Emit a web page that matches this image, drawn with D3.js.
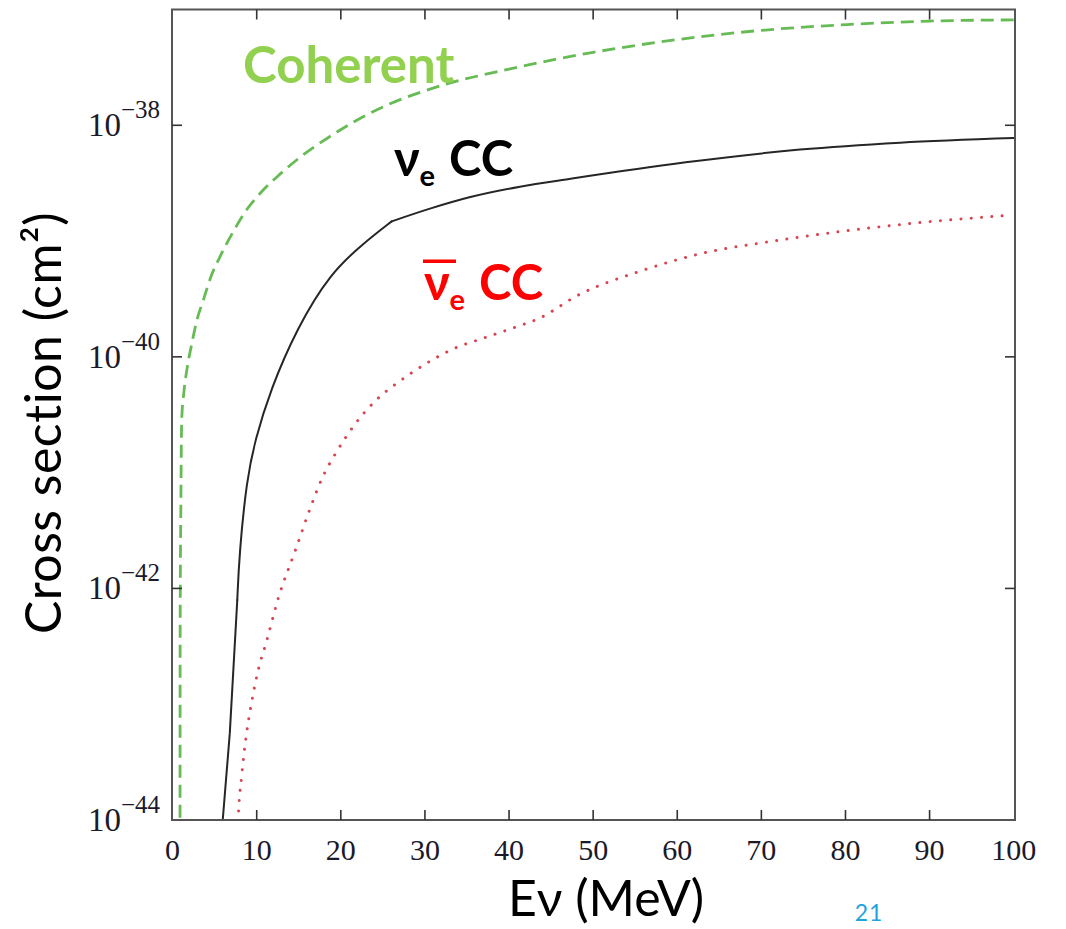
<!DOCTYPE html>
<html>
<head>
<meta charset="utf-8">
<script src="https://cdn.jsdelivr.net/npm/d3@7"></script>
<style>
  html, body { margin: 0; padding: 0; background: #ffffff; }
  svg { display: block; }
</style>
</head>
<body>
<svg id="chart" width="1066" height="929"></svg>
<script>
// ---------- DATA (energy in MeV, cross section as log10 of cm^2) ----------
const coherentE   = [0.88, 0.9, 0.98, 1.08, 1.35, 1.7, 2.3, 2.9, 3.65, 4.6, 5.6, 7.2, 8.8, 10.5, 12.8, 15.5, 18.3, 21.5, 25, 31.8, 40, 50, 60, 70, 80.2, 90, 100];
const coherentLog = [-44.5, -42.3, -41.3, -40.55, -40.3, -40.11, -39.88, -39.68, -39.51, -39.3, -39.14, -38.92, -38.73, -38.58, -38.42, -38.257, -38.116, -37.973, -37.842, -37.66, -37.515, -37.37, -37.26, -37.18, -37.13, -37.10, -37.09];

// nu_e CC, drawn in three pieces (threshold, rising part, high-energy part)
const nueCCLowE    = [5.8, 5.96, 6.8, 7.69];
const nueCCLowLog  = [-44.1, -44, -43.25, -42.10];
const nueCCMidE    = [7.69, 7.93, 8.81, 9.8, 11.6, 14.8, 18.72, 22.68, 26.05];
const nueCCMidLog  = [-42.10, -41.70, -41.06, -40.72, -40.29, -39.75, -39.28, -39.02, -38.83];
const nueCCHighE   = [26.05, 30.6, 35.4, 41.3, 47.5, 61, 74.6, 86.5, 100];
const nueCCHighLog = [-38.83, -38.72, -38.62, -38.53, -38.46, -38.32, -38.21, -38.15, -38.11];

const anueCCE   = [7.75, 7.8, 8.2, 8.8, 9.4, 10.2, 11.2, 12.5, 14.6, 16.3, 17.7, 19.5, 21.6, 24.1, 27, 30.1, 33.4, 36.9, 40.5, 43.5, 48.4, 55.6, 62.7, 71.4, 80.2, 88.9, 99];
const anueCCLog = [-44.1, -44, -43.63, -43.25, -42.98, -42.7, -42.45, -42.1, -41.67, -41.32, -41.06, -40.82, -40.59, -40.38, -40.21, -40.06, -39.93, -39.84, -39.75, -39.67, -39.46, -39.26, -39.11, -39.0, -38.91, -38.84, -38.78];

const xTicks = [0, 10, 20, 30, 40, 50, 60, 70, 80, 90, 100];
const yTickExponents = [-38, -40, -42, -44];

const xTitle = "Eν (MeV)";
const yTitle = "Cross section (cm²)";
const pageNumber = "21";

// ---------- LAYOUT ----------
const svg = d3.select("#chart");
const frame = { left: 172, right: 1015, top: 9.5, bottom: 820 };

const x = d3.scaleLinear().domain([0, 100]).range([172.6, 1013.7]);
const y = d3.scaleLog().domain([1e-44, 1e-37]).range([frame.bottom, frame.top]);

const serif = "'Liberation Serif', 'DejaVu Serif', serif";
const sans = "Lato, 'Open Sans', 'Noto Sans', sans-serif";

svg.append("defs").append("clipPath").attr("id", "plotClip")
  .append("rect")
  .attr("x", frame.left).attr("y", frame.top)
  .attr("width", frame.right - frame.left).attr("height", frame.bottom - frame.top);

// ---------- CURVES ----------
function series(E, L) { return E.map((e, i) => ({ e: e, v: Math.pow(10, L[i]) })); }

const lineLinear = d3.line().x(d => x(d.e)).y(d => y(d.v));
const lineSmooth = d3.line().x(d => x(d.e)).y(d => y(d.v)).curve(d3.curveMonotoneX);
const lineBasis  = d3.line().x(d => x(d.e)).y(d => y(d.v)).curve(d3.curveBasis);

const plot = svg.append("g").attr("clip-path", "url(#plotClip)");

plot.append("path")
  .datum(series(coherentE, coherentLog))
  .attr("d", lineSmooth)
  .attr("fill", "none")
  .attr("stroke", "#66bb55")
  .attr("stroke-width", 2.8)
  .attr("stroke-dasharray", "13 7");

const nuePieces = [
  [series(nueCCLowE, nueCCLowLog), lineLinear],
  [series(nueCCMidE, nueCCMidLog), lineBasis],
  [series(nueCCHighE, nueCCHighLog), lineSmooth]
];
nuePieces.forEach(([data, gen]) => {
  plot.append("path")
    .datum(data)
    .attr("d", gen)
    .attr("fill", "none")
    .attr("stroke", "#262626")
    .attr("stroke-width", 2)
    .attr("stroke-linejoin", "round")
    .attr("stroke-linecap", "round");
});

plot.append("path")
  .datum(series(anueCCE, anueCCLog))
  .attr("d", lineSmooth)
  .attr("fill", "none")
  .attr("stroke", "#d9444f")
  .attr("stroke-width", 3)
  .attr("stroke-linecap", "round")
  .attr("stroke-dasharray", "0.01 10.3");

// ---------- FRAME & TICKS ----------
svg.append("rect")
  .attr("x", frame.left).attr("y", frame.top)
  .attr("width", frame.right - frame.left).attr("height", frame.bottom - frame.top)
  .attr("fill", "none").attr("stroke", "#555555").attr("stroke-width", 2);

const tickLen = 10;
const innerX = xTicks.filter(t => t > 0 && t < 100);
const tickG = svg.append("g").attr("stroke", "#333333").attr("stroke-width", 1.6);
innerX.forEach(t => {
  tickG.append("line").attr("x1", x(t)).attr("x2", x(t)).attr("y1", frame.bottom).attr("y2", frame.bottom - tickLen);
  tickG.append("line").attr("x1", x(t)).attr("x2", x(t)).attr("y1", frame.top).attr("y2", frame.top + tickLen);
});
yTickExponents.filter(e => e > -44).forEach(e => {
  const yy = y(Math.pow(10, e));
  tickG.append("line").attr("x1", frame.left).attr("x2", frame.left + tickLen).attr("y1", yy).attr("y2", yy);
  tickG.append("line").attr("x1", frame.right).attr("x2", frame.right - tickLen).attr("y1", yy).attr("y2", yy);
});

// x tick labels
svg.append("g").selectAll("text").data(xTicks).join("text")
  .attr("x", d => x(d))
  .attr("y", 860)
  .attr("text-anchor", "middle")
  .attr("font-family", serif)
  .attr("font-size", 30)
  .attr("fill", "#1a1a2a")
  .text(d => d);

// y tick labels: 10^exp
const yl = svg.append("g").selectAll("text").data(yTickExponents).join("text")
  .attr("x", 160)
  .attr("y", d => y(Math.pow(10, d)) + 11)
  .attr("text-anchor", "end")
  .attr("font-family", serif)
  .attr("fill", "#1a1a2a");
yl.append("tspan").attr("font-size", 33).text("10");
yl.append("tspan").attr("font-size", 25).attr("dy", -18).text(d => "−" + Math.abs(d));

// ---------- AXIS TITLES ----------
svg.append("text")
  .attr("transform", "translate(61,423) rotate(-90)")
  .attr("text-anchor", "middle")
  .attr("font-family", sans)
  .attr("font-size", 50)
  .attr("letter-spacing", 0.5)
  .attr("fill", "#000")
  .text(yTitle);

svg.append("text")
  .attr("x", 606).attr("y", 916)
  .attr("text-anchor", "middle")
  .attr("font-family", sans)
  .attr("font-size", 50)
  .attr("fill", "#000")
  .text(xTitle);

svg.append("text")
  .attr("x", 869).attr("y", 921)
  .attr("text-anchor", "middle")
  .attr("font-family", sans)
  .attr("font-size", 23)
  .attr("letter-spacing", 1)
  .attr("fill", "#1ea3dc")
  .text(pageNumber);

// ---------- CURVE LABELS ----------
svg.append("text")
  .attr("x", 243).attr("y", 83)
  .attr("font-family", sans).attr("font-weight", "bold")
  .attr("font-size", 51)
  .attr("fill", "#92d050")
  .text("Coherent");

const nl = svg.append("text")
  .attr("x", 394).attr("y", 176)
  .attr("font-family", sans).attr("font-weight", "bold")
  .attr("font-size", 49).attr("fill", "#000");
nl.append("tspan").text("ν");
nl.append("tspan").attr("font-size", 29).attr("dy", 10).text("e");
nl.append("tspan").attr("dy", -10).attr("dx", 2).text(" CC");

const al = svg.append("text")
  .attr("x", 424).attr("y", 300)
  .attr("font-family", sans).attr("font-weight", "bold")
  .attr("font-size", 49).attr("fill", "#ff0000");
al.append("tspan").text("ν");
al.append("tspan").attr("font-size", 29).attr("dy", 10).text("e");
al.append("tspan").attr("dy", -10).attr("dx", 2).text(" CC");
svg.append("rect")
  .attr("x", 423).attr("y", 259.5).attr("width", 33).attr("height", 3.5)
  .attr("fill", "#ff0000");
</script>
</body>
</html>
